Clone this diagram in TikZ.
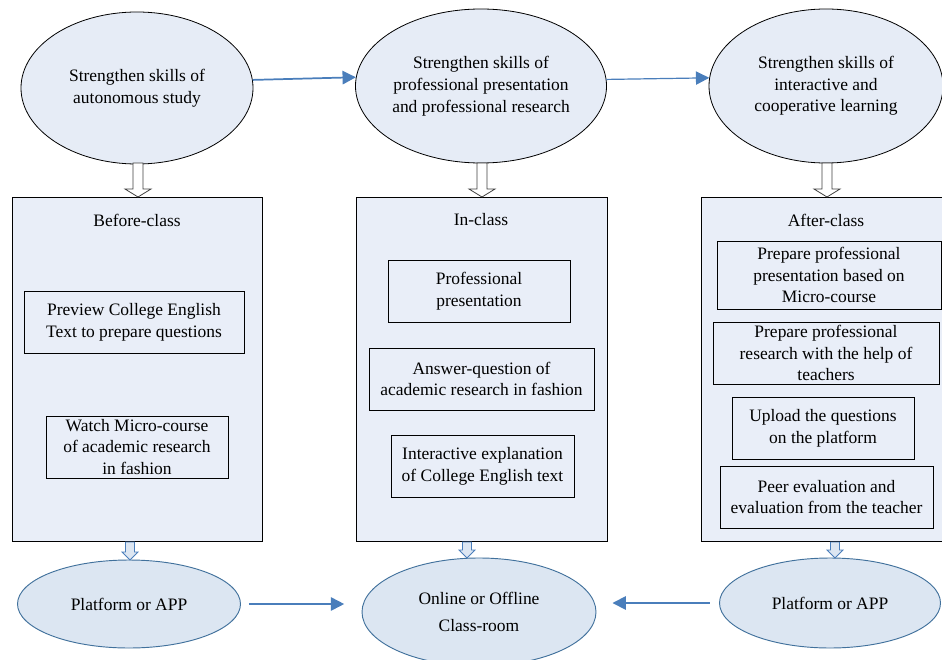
\documentclass[tikz,border=0pt]{standalone}
\usepackage{fontspec}
\setmainfont{Liberation Serif}
\usetikzlibrary{shapes.geometric,arrows.meta}
\definecolor{topfill}{HTML}{E6ECF6}
\definecolor{boxfill}{HTML}{E9EEF8}
\definecolor{botfill}{HTML}{DCE6F2}
\definecolor{arrowblue}{HTML}{4A7EBB}
\definecolor{botline}{HTML}{41719C}
\newcommand\hollowarrow[6]{% x, ytop, ybot, half shaft, head extend, style
  \draw[#6] (#1-#4,#2) -- (#1+#4,#2) -- (#1+#4,#3-8) -- (#1+#4+#5,#3-8) -- (#1,#3)
    -- (#1-#4-#5,#3-8) -- (#1-#4,#3-8) -- cycle;}
\begin{document}
\begin{tikzpicture}[x=0.75pt,y=-0.75pt,
  txt/.style={font=\fontsize{13.1}{16.3}\selectfont, align=center, text=black},
  topell/.style={txt, ellipse, draw=black, line width=0.6pt, fill=topfill, inner sep=0pt},
  phase/.style={rectangle, draw=black, line width=0.7pt, fill=boxfill, inner sep=0pt},
  item/.style={txt, rectangle, draw=black, line width=0.7pt, fill=boxfill, inner sep=0pt},
  botell/.style={txt, ellipse, draw=botline, line width=0.7pt, fill=botfill, inner sep=0pt},
  bluearrow/.style={draw=arrowblue, line width=1.3pt, -{Triangle[length=10pt,width=10pt]}},
  hollow/.style={draw=black!75, line width=0.6pt, fill=white},
  smallhollow/.style={draw=arrowblue, line width=0.6pt, fill=botfill},
  title/.style={txt}]
\useasboundingbox (0,0) rectangle (942,660);

% top ellipses
\node[topell, minimum width=174pt, minimum height=114pt] (E1) at (137,88)
  {Strengthen skills of\\autonomous study};
\node[topell, minimum width=175pt, minimum height=115.5pt] (E2) at (481,86)
  {Strengthen skills of\\professional presentation\\and professional research};
\node[topell, minimum width=175.5pt, minimum height=115.5pt] (E3) at (826,86)
  {Strengthen skills of\\interactive and\\cooperative learning};

\draw[bluearrow] (E1.4) -- (E2.176);
\draw[bluearrow, line width=0.9pt] (E2.3) -- (E3.176);

% phase boxes
\node[phase, minimum width=187.5pt, minimum height=258pt] (B1) at (137,369) {};
\node[phase, minimum width=188.25pt, minimum height=258pt] (B2) at (481.5,369) {};
\node[phase, minimum width=187.5pt, minimum height=258pt] (B3) at (826,369) {};

\hollowarrow{138}{163}{197}{5}{8}{hollow}
\hollowarrow{482}{163}{197}{5}{8}{hollow}
\hollowarrow{827}{163}{197}{5}{8}{hollow}

\node[title] (T1) at (137,220) {Before-class};
\node[title] (T2) at (481,220) {In-class};
\node[title] (T3) at (826,220) {After-class};

% before-class items
\node[item, minimum width=165pt, minimum height=46.5pt] (P1) at (134,322)
  {Preview College English\\Text to prepare questions};
\node[item, minimum width=136.5pt, minimum height=46.5pt] (P2) at (137,447)
  {Watch Micro-course\\of academic research\\in fashion};

% in-class items
\node[item, minimum width=136.5pt, minimum height=46.5pt] (I1) at (479,291)
  {Professional\\presentation};
\node[item, minimum width=168.75pt, minimum height=46.5pt] (I2) at (481.5,379)
  {Answer-question of\\academic research in fashion};
\node[item, minimum width=137.25pt, minimum height=46.5pt] (I3) at (482.5,466)
  {Interactive explanation\\of College English text};

% after-class items
\node[item, minimum width=168pt, minimum height=51pt] (A1) at (829,275)
  {Prepare professional\\presentation based on\\Micro-course};
\node[item, minimum width=169.5pt, minimum height=46.5pt] (A2) at (826,353)
  {Prepare professional\\research with the help of\\teachers};
\node[item, minimum width=136.5pt, minimum height=46.5pt] (A3) at (823,428)
  {Upload the questions\\on the platform};
\node[item, minimum width=159.75pt, minimum height=46.5pt] (A4) at (826.5,497)
  {Peer evaluation and\\evaluation from the teacher};

% bottom ellipses
\node[botell, minimum width=167.25pt, minimum height=66pt] (L) at (129,604)
  {Platform or APP};
\node[botell, minimum width=175.5pt, minimum height=81pt,
  font=\fontsize{13.1}{20}\selectfont] (C) at (479,612)
  {Online or Offline\\Class-room};
\node[botell, minimum width=165.75pt, minimum height=67.5pt] (R) at (830,603)
  {Platform or APP};

\hollowarrow{130}{542}{560}{4.5}{3.5}{smallhollow}
\hollowarrow{467}{542}{558}{4.5}{3.5}{smallhollow}
\hollowarrow{835}{542}{558}{4.5}{3.5}{smallhollow}

\draw[bluearrow, shorten <=6pt, shorten >=13pt] (L.east) -- (C.west |- L.east);
\draw[bluearrow, shorten <=7pt, shorten >=12pt] (R.west) -- (C.east |- R.west);
\end{tikzpicture}
\end{document}
